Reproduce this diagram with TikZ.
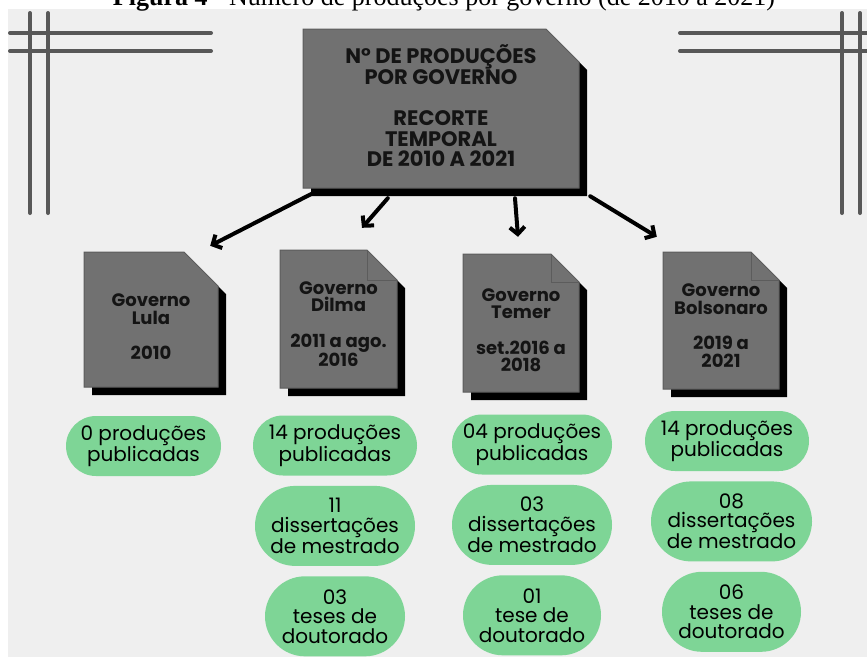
\documentclass[tikz,border=0pt]{standalone}
\usepackage{fontspec}
\setmainfont{Poppins}
\newfontfamily\capfont{Liberation Serif}
\usetikzlibrary{arrows.meta}
\usetikzlibrary{positioning}
\definecolor{pagegray}{RGB}{239,239,239}
\definecolor{linegray}{RGB}{88,88,88}
\definecolor{docgray}{RGB}{113,113,113}
\definecolor{docedge}{RGB}{92,92,92}
\definecolor{pillgreen}{RGB}{126,213,150}

% sheet with cut corner and black shadow: name, left, top, right, bottom, cut
\newcommand{\docbox}[6]{%
  \fill[black] ({#2+8},{#3+8}) -- ({#4-#6+8},{#3+8}) -- ({#4+8},{#3+#6+8}) -- ({#4+8},{#5+8}) -- ({#2+8},{#5+8}) -- cycle;
  \filldraw[fill=docgray,draw=docedge,line width=1] (#2,#3) -- ({#4-#6},#3) -- (#4,{#3+#6}) -- (#4,#5) -- (#2,#5) -- cycle;
  \node[frame,minimum width={(#4-#2)*1pt},minimum height={(#5-#3)*1pt}] (#1) at ({(#2+#4)/2},{(#3+#5)/2}) {};}
% folded flap: right, top, cut
\newcommand{\docfold}[3]{\draw[docedge,line width=1] ({#1-#3},#2) -- ({#1-#3},{#2+#3}) -- (#1,{#2+#3});}

\begin{document}
\begin{tikzpicture}[x=1pt,y=-1pt,
  frame/.style={rectangle,inner sep=0},
  doctext/.style={align=center,inner sep=0,text=black!92,font=\bfseries\fontsize{18}{17.5}\selectfont},
  corner/.style={linegray,line width=4,line cap=round},
  arr/.style={line width=4,line cap=round,-{Straight Barb[length=7pt,width=15pt]}},
  pill/.style={rectangle,fill=pillgreen,align=center,inner sep=0,minimum width=#1,font=\fontsize{20}{19.5}\selectfont},
  pilltwo/.style={pill=#1,minimum height=60pt,rounded corners=30pt},
  pillthree/.style={pill=#1,minimum height=80pt,rounded corners=40pt}]
\useasboundingbox (0,0) rectangle (867,657);
\clip (0,0) rectangle (867,657);
\fill[pagegray] (8,9) rectangle (867,657);
\node[font=\capfont\fontsize{26}{26}\selectfont,anchor=base] (caption) at (444,5) {\textbf{Figura 4} - Número de produções por governo (de 2010 a 2021)};

% corner frames
\foreach \y in {33,51} {
  \draw[corner] (10,\y) -- (211,\y);
  \draw[corner] (680,\y) -- (870,\y);
}
\foreach \x in {30,48,842,860} \draw[corner] (\x,13) -- (\x,213);

% sheets
\docbox{top}{303}{29}{579}{188}{33}
\node[doctext,font=\bfseries\fontsize{21}{20.5}\selectfont] (top-txt) at ([yshift=3pt]top.center) {N° DE PRODUÇÕES\\POR GOVERNO\\[20.5pt]RECORTE\\TEMPORAL\\DE 2010 A 2021};

\docbox{lula}{84}{252}{218}{387}{34}
\node[doctext] (lula-txt) at ([yshift=-7pt]lula.center) {Governo\\Lula\\[17.5pt]2010};

\docbox{dilma}{280}{250}{397}{388}{30}
\docfold{397}{250}{30}
\node[doctext] (dilma-txt) at ([yshift=-5pt]dilma.center) {Governo\\Dilma\\[18pt]2011 a ago.\\2016};

\docbox{temer}{463}{254}{579}{392}{28}
\docfold{579}{254}{28}
\node[doctext] (temer-txt) at ([yshift=-7pt]temer.center) {Governo\\Temer\\[18pt]set.2016 a\\2018};

\docbox{bolso}{663}{252}{779}{389}{28}
\docfold{779}{252}{28}
\node[doctext] (bolso-txt) at ([yshift=-5pt]bolso.center) {Governo\\Bolsonaro\\[18pt]2019 a\\2021};

% arrows
\draw[arr] ([shift={(10,5)}]top.south west) -- ([shift={(-8,-6)}]lula.north east);
\draw[arr] ([shift={(85,10)}]top.south west) -- ([shift={(23.5,-22)}]dilma.north);
\draw[arr] ([shift={(74,10)}]top.south) -- ([shift={(-3,-17)}]temer.north);
\draw[arr] ([shift={(11,8)}]top.south east) -- ([shift={(-6,-15)}]bolso.north west);

% counts
\node[pilltwo=155pt] (lula-p) at (143.5,446) {0 produções\\publicadas};

\node[pilltwo=164pt] (dilma-p) at (335,445.5) {14 produções\\publicadas};
\node[pillthree=160pt,below=10pt of dilma-p] (dilma-d) {11\\dissertações\\de mestrado};
\node[pillthree=140pt,below=10pt of dilma-d] (dilma-t) {03\\teses de\\doutorado};

\node[pilltwo=160pt] (temer-p) at (532,444.5) {04 produções\\publicadas};
\node[pillthree=160pt,below=10pt of temer-p] (temer-d) {03\\dissertações\\de mestrado};
\node[pillthree=138pt,below=10pt of temer-d] (temer-t) {01\\tese de\\doutorado};

\node[pilltwo=164pt] (bolso-p) at (727,441) {14 produções\\publicadas};
\node[pillthree=161pt,below=10pt of bolso-p,xshift=4.5pt] (bolso-d) {08\\dissertações\\de mestrado};
\node[pillthree=139pt,below=10pt of bolso-d] (bolso-t) {06\\teses de\\doutorado};
\end{tikzpicture}
\end{document}
